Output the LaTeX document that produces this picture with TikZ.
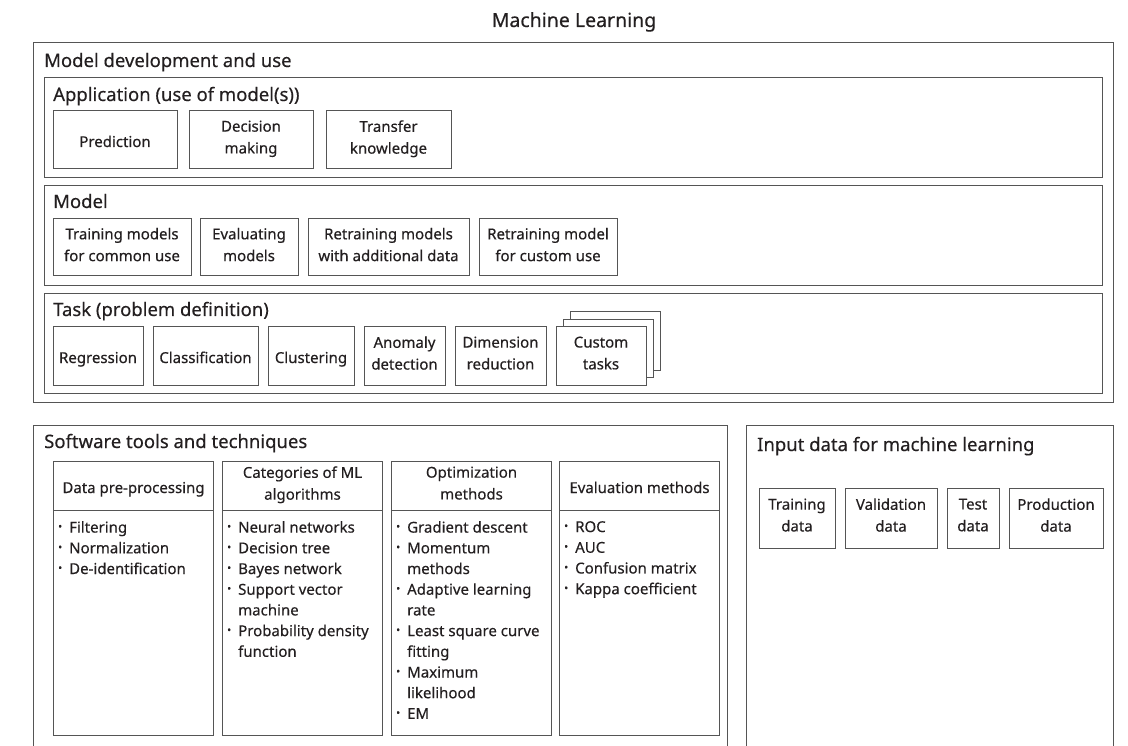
\documentclass[tikz,border=0pt]{standalone}
\usepackage{fontspec}
\setmainfont{Noto Sans}[FakeBold=0.35]
\definecolor{edge}{HTML}{555555}
\definecolor{ink}{HTML}{231F20}
\newcommand{\bigsz}{\fontsize{18.5}{22}\selectfont}
\newcommand{\smsz}{\fontsize{15}{20.7}\selectfont}
\newcommand{\boxsz}{\fontsize{15}{21.8}\selectfont}
\newcommand{\bl}{\makebox[11pt][l]{\raisebox{2.5pt}{\scalebox{0.7}{\textbullet}}}}
\newcommand{\cl}{\hspace*{11pt}}
% struts that keep one- and two-line labels centred in their boxes
\newcommand{\topstrut}{\rule{0pt}{20pt}}
\newcommand{\botstrut}{\rule[-6pt]{0pt}{6pt}}
\tikzset{
  x=1pt, y=-1pt,
  frame/.style={draw=edge, line width=1pt, inner sep=0pt, anchor=north west},
  hdr/.style={font=\bigsz, text=ink, inner sep=0pt, anchor=base west},
  cell/.style={draw=edge, line width=1pt, fill=white, align=center, inner sep=0pt,
               font=\boxsz, text=ink,
               execute at begin node=\topstrut, execute at end node=\botstrut},
  colhead/.style={frame, align=center, font=\boxsz, text=ink, minimum width=160pt, minimum height=49pt,
               execute at begin node=\topstrut, execute at end node=\botstrut},
  colbody/.style={frame, minimum width=160pt, minimum height=225pt},
  items/.style={font=\smsz, text=ink, inner sep=0pt, anchor=north west, align=left},
}
\begin{document}
\begin{tikzpicture}
\useasboundingbox (0,0) rectangle (1128,746);
\clip (0,0) rectangle (1128,746);

% title
\node[font=\fontsize{19.5}{23}\selectfont, text=ink, inner sep=0pt, anchor=base] (title) at (574,27) {Machine Learning};

% ---------- model development and use ----------
\node[frame, minimum width=1080pt, minimum height=360pt] (dev) at (33,42) {};
\node[hdr] (devt) at (44,67) {Model development and use};

% application panel
\node[frame, minimum width=1058pt, minimum height=100pt] (app) at (44,77) {};
\node[hdr] (appt) at (53,101) {Application (use of model(s))};
\node[cell, minimum width=124pt, minimum height=58pt] (pred) at (115,140) {Prediction};
\node[cell, minimum width=124pt, minimum height=58pt] (dec) at (251,140) {Decision\\making};
\node[cell, minimum width=125pt, minimum height=58pt] (trans) at (388.5,140) {Transfer\\knowledge};

% model panel
\node[frame, minimum width=1058pt, minimum height=100pt] (mod) at (44,185) {};
\node[hdr] (modt) at (53,208) {Model};
\node[cell, minimum width=138pt, minimum height=57pt] (train) at (122,247.5) {Training models\\for common use};
\node[cell, minimum width=98pt, minimum height=57pt] (evalm) at (249,247.5) {Evaluating\\models};
\node[cell, minimum width=161pt, minimum height=57pt] (retr) at (388.5,247.5) {Retraining models\\with additional data};
\node[cell, minimum width=138pt, minimum height=57pt] (retc) at (548,247.5) {Retraining model\\for custom use};

% task panel
\node[frame, minimum width=1058pt, minimum height=100pt] (task) at (44,293) {};
\node[hdr] (taskt) at (53,316) {Task (problem definition)};
\node[cell, minimum width=90pt, minimum height=58pt] (reg) at (98,356) {Regression};
\node[cell, minimum width=105pt, minimum height=58pt] (cls) at (205.5,356) {Classification};
\node[cell, minimum width=86pt, minimum height=58pt] (clu) at (311,356) {Clustering};
\node[cell, minimum width=81pt, minimum height=58pt] (ano) at (404.5,356) {Anomaly\\detection};
\node[cell, minimum width=91pt, minimum height=58pt] (dim) at (500.5,356) {Dimension\\reduction};
\node[cell, minimum width=90pt, minimum height=58pt] (ct3) at (615,341) {};
\node[cell, minimum width=90pt, minimum height=58pt] (ct2) at (608,348.5) {};
\node[cell, minimum width=90pt, minimum height=58pt] (ct) at (601,356) {Custom\\tasks};

% ---------- software tools and techniques ----------
\node[frame, minimum width=694pt, minimum height=340pt] (sw) at (33,425) {};
\node[hdr] (swt) at (44,448) {Software tools and techniques};

\node[colhead] (h1) at (53,461) {Data pre-processing};
\node[colbody] (b1) at (53,510) {};
\node[items] (l1) at (58,521) {\bl Filtering\\\bl Normalization\\\bl De-identification};

\node[colhead] (h2) at (222,461) {Categories of ML\\algorithms};
\node[colbody] (b2) at (222,510) {};
\node[items] (l2) at (227,521) {\bl Neural networks\\\bl Decision tree\\\bl Bayes network\\
  \bl Support vector\\\cl machine\\\bl Probability density\\\cl function};

\node[colhead] (h3) at (391,461) {Optimization\\methods};
\node[colbody] (b3) at (391,510) {};
\node[items] (l3) at (396,521) {\bl Gradient descent\\\bl Momentum\\\cl methods\\
  \bl Adaptive learning\\\cl rate\\\bl Least square curve\\\cl fitting\\
  \bl Maximum\\\cl likelihood\\\bl EM};

\node[colhead] (h4) at (559,461) {Evaluation methods};
\node[colbody] (b4) at (559,510) {};
\node[items] (l4) at (564,521) {\bl ROC\\\bl AUC\\\bl Confusion matrix\\\bl Kappa coefficient};

% ---------- input data ----------
\node[frame, minimum width=367pt, minimum height=340pt] (inp) at (746,425) {};
\node[hdr] (inpt) at (757,451) {Input data for machine learning};
\node[cell, minimum width=76pt, minimum height=60pt] (trd) at (797,518) {Training\\data};
\node[cell, minimum width=92pt, minimum height=60pt] (vad) at (891,518) {Validation\\data};
\node[cell, minimum width=52pt, minimum height=60pt] (ted) at (973,518) {Test\\data};
\node[cell, minimum width=94pt, minimum height=60pt] (prd) at (1056,518) {Production\\data};
\end{tikzpicture}
\end{document}
